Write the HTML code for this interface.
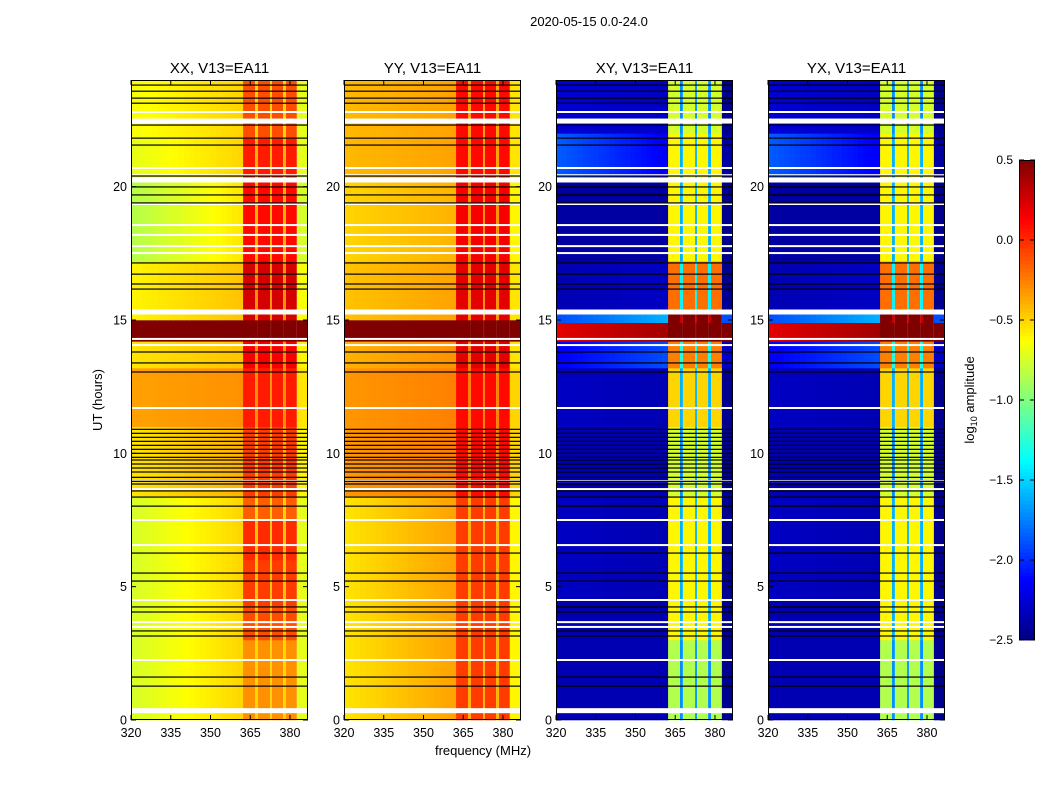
<!DOCTYPE html>
<html><head><meta charset="utf-8">
<style>
body{margin:0;background:#fff;font-family:"Liberation Sans",sans-serif;}
svg text{font-family:"Liberation Sans",sans-serif;}
</style></head>
<body>
<svg id="fig" width="1050" height="800" xmlns="http://www.w3.org/2000/svg">
<rect width="1050" height="800" fill="#fff"/>
<text x="589" y="26" font-size="13" text-anchor="middle">2020-05-15 0.0-24.0</text>
<text x="483" y="755" font-size="13" text-anchor="middle">frequency (MHz)</text>
<text transform="translate(102,400) rotate(-90)" font-size="13" text-anchor="middle">UT (hours)</text>
<g id="panels"></g>
<g id="cbar"></g>
</svg>
<script>
// ---- data ----
const panelTitles = ["XX, V13=EA11","YY, V13=EA11","XY, V13=EA11","YX, V13=EA11"];
const xTicks = [320,335,350,365,380];
const yTicks = [0,5,10,15,20];
const cbarTicks = [0.5,0.0,-0.5,-1.0,-1.5,-2.0,-2.5];
const bandRanges = [[362.3,366.8],[367.9,372.5],[373.2,377.4],[378.5,382.6]];
// time bands: [t0, t1, bgLeft, bgRight, bandVal, gapVal, edgeVal]
const bandsXX = [
 [0,3,-0.75,-0.5,-0.3,-0.5,-0.7],[3,4.3,-0.75,-0.5,-0.1,-0.45,-0.7],[4.3,6,-0.75,-0.5,-0.05,-0.45,-0.7],
 [6,7.5,-0.75,-0.5,0.0,-0.45,-0.7],[7.5,8.4,-0.75,-0.5,-0.15,-0.5,-0.7],[8.4,11,-0.55,-0.4,-0.05,-0.4,-0.6],
 [11,13.2,-0.35,-0.3,0.05,-0.3,-0.55],[13.2,14.2,-0.55,-0.45,0.15,-0.3,-0.6],[14.2,15,0.5,0.5,0.5,0.5,0.5],
 [15,17.2,-0.6,-0.45,0.25,-0.3,-0.65],[17.2,20.3,-0.85,-0.55,0.1,-0.4,-0.75],[20.3,21.8,-0.7,-0.5,0.05,-0.4,-0.7],
 [21.8,24,-0.65,-0.5,-0.1,-0.5,-0.7]];
const bandsYY = [
 [0,8.4,-0.55,-0.35,-0.05,-0.4,-0.6],[8.4,13.2,-0.32,-0.25,0.1,-0.25,-0.5],[13.2,14.2,-0.4,-0.3,0.2,-0.25,-0.55],
 [14.2,15,0.5,0.5,0.5,0.5,0.5],[15,17.2,-0.45,-0.35,0.2,-0.3,-0.55],[17.2,20.3,-0.5,-0.4,0.15,-0.3,-0.6],
 [20.3,24,-0.42,-0.35,0.1,-0.35,-0.55]];
const bandsXY = [
 [0,3,-2.35,-2.35,-0.85,-1.7,-2.45],[3,4.5,-2.35,-2.35,-0.6,-1.6,-2.45],[4.5,8.4,-2.3,-2.35,-0.6,-1.6,-2.45],
 [8.4,11,-2.35,-2.35,-0.75,-1.7,-2.45],[11,13.2,-2.3,-2.35,-0.5,-1.6,-2.45],[13.2,14.2,-2.15,-1.9,-0.25,-1.3,-2.3],
 [14.2,14.9,0.2,0.4,0.5,0.5,0.5],[14.9,15.3,-1.9,-1.6,0.5,0.3,-1.9],[15.3,17.2,-2.35,-2.3,-0.2,-1.4,-2.45],
 [17.2,20.3,-2.4,-2.4,-0.6,-1.6,-2.45],[20.3,22,-1.85,-2.15,-0.6,-1.6,-2.4],[22,24,-2.25,-2.3,-0.75,-1.7,-2.45]];
const bandsYX = bandsXY;
const panelBands = [bandsXX,bandsYY,bandsXY,bandsYX];
const whiteFlags = [0.3,2.25,3.49,3.67,4.5,6.56,7.5,8.66,8.96,11.7,14.06,14.29,17.51,17.77,18.19,18.56,19.35,20.43,20.7,22.8];
const whiteThick = [0.35,15.3,20.25,22.46];
const blackFlags = [1.27,1.61,3.15,3.34,4.05,4.24,5.21,5.51,6.26,8.02,8.36,8.59,8.85,8.95,9.1,9.3,9.45,9.6,9.75,9.85,10.0,10.15,10.3,10.45,10.6,10.75,10.9,13.05,13.39,13.8,16.16,16.35,16.72,17.14,19.39,19.69,19.99,20.4,21.56,21.82,22.31,23.13,23.32,23.58,23.81];
const panelLeft = [131,344,556,768];

// ---- scales ----
const W=177, TOP=80, BOT=720, FMIN=320, FMAX=386.8, TMAX=24, VMIN=-2.5, VMAX=0.5;
const NS="http://www.w3.org/2000/svg";
function xs(f,p){return panelLeft[p]+(f-FMIN)/(FMAX-FMIN)*W;}
function ys(t){return BOT-(t/TMAX)*(BOT-TOP);}
function jet(v){
  let x=(v-VMIN)/(VMAX-VMIN); x=Math.max(0,Math.min(1,x));
  const c=t=>Math.round(255*Math.max(0,Math.min(1,t)));
  const r=c(Math.min(4*x-1.5,-4*x+4.5)), g=c(Math.min(4*x-0.5,-4*x+3.5)), b=c(Math.min(4*x+0.5,-4*x+2.5));
  return `rgb(${r},${g},${b})`;
}
function el(tag,attrs,parent){const e=document.createElementNS(NS,tag);for(const k in attrs)e.setAttribute(k,attrs[k]);parent.appendChild(e);return e;}

const root=document.getElementById('panels');
for(let p=0;p<4;p++){
  const g=el('g',{},root);
  
  
  const hm=el('g',{},g);
  
  
  const bands=panelBands[p];
  const bgEnd=bandRanges[0][0];
  for(const b of bands){
    const y0=ys(b[1]), y1=ys(b[0]);
    for(let f=FMIN; f<bgEnd; f+=2){
      const f1=Math.min(f+2,bgEnd);
      const v=b[2]+(b[3]-b[2])*((f+f1)/2-FMIN)/(bgEnd-FMIN);
      const r=el('rect',{x:xs(f,p),y:y0,width:xs(f1,p)-xs(f,p)+0.5,height:y1-y0+0.3,fill:jet(v)},hm);
      
      
    }
    for(let i=0;i<bandRanges.length;i++){
      const br=bandRanges[i];
      const r=el('rect',{x:xs(br[0],p),y:y0,width:xs(br[1],p)-xs(br[0],p),height:y1-y0+0.3,fill:jet(b[4])},hm);
      
      
      const gEnd = i<bandRanges.length-1 ? bandRanges[i+1][0] : null;
      if(gEnd!==null){
        const gr=el('rect',{x:xs(br[1],p),y:y0,width:xs(gEnd,p)-xs(br[1],p),height:y1-y0+0.3,fill:jet(b[5])},hm);
        
        
      }
    }
    const last=bandRanges[bandRanges.length-1][1];
    const er=el('rect',{x:xs(last,p),y:y0,width:xs(FMAX,p)-xs(last,p),height:y1-y0+0.3,fill:jet(b[6])},hm);
    
    
  }
  for(const t of whiteFlags){
    const r=el('rect',{x:panelLeft[p],y:ys(t)-1,width:W,height:2,fill:'#fff'},g);
    
    
  }
  for(const t of whiteThick){
    const r=el('rect',{x:panelLeft[p],y:ys(t)-2.5,width:W,height:5,fill:'#fff'},g);
    
    
  }
  for(const t of blackFlags){
    const r=el('rect',{x:panelLeft[p],y:ys(t)-0.6,width:W,height:1.2,fill:'#000'},g);
    
    
  }
  const fr=el('rect',{x:panelLeft[p]+0.5,y:TOP+0.5,width:W-1,height:BOT-TOP-1,fill:'none',stroke:'#000','stroke-width':1},g);
  
  
  const tt=el('text',{x:panelLeft[p]+W/2,y:73,'font-size':15,'text-anchor':'middle'},g);
  tt.textContent=panelTitles[p];
  
  
  for(const f of xTicks){
    const x=xs(f,p);
    el('line',{x1:x,x2:x,y1:BOT,y2:BOT-5,stroke:'#000'},g);
    el('line',{x1:x,x2:x,y1:TOP,y2:TOP+5,stroke:'#000'},g);
    const lt=el('text',{x:x,y:BOT+17,'font-size':12.5,'text-anchor':'middle'},g);
    lt.textContent=f;
    
    
  }
  for(const t of yTicks){
    const y=ys(t);
    el('line',{x1:panelLeft[p],x2:panelLeft[p]+5,y1:y,y2:y,stroke:'#000'},g);
    el('line',{x1:panelLeft[p]+W,x2:panelLeft[p]+W-5,y1:y,y2:y,stroke:'#000'},g);
    const lt=el('text',{x:panelLeft[p]-4,y:y+4.5,'font-size':12.5,'text-anchor':'end'},g);
    lt.textContent=t;
    
    
  }
}
const cb=document.getElementById('cbar');


const CX=1019,CW=16,CT=160,CB=640;
for(let i=0;i<120;i++){
  const v=VMIN+(VMAX-VMIN)*(i+0.5)/120;
  const y=CB-(i+1)*(CB-CT)/120;
  el('rect',{x:CX,y:y,width:CW,height:(CB-CT)/120+0.5,fill:jet(v)},cb);
}
el('rect',{x:CX+0.5,y:CT+0.5,width:CW-1,height:CB-CT-1,fill:'none',stroke:'#000'},cb);
for(const v of cbarTicks){
  const y=CB-(v-VMIN)/(VMAX-VMIN)*(CB-CT);
  el('line',{x1:CX,x2:CX+5,y1:y,y2:y,stroke:'#000'},cb);
  el('line',{x1:CX+CW,x2:CX+CW-5,y1:y,y2:y,stroke:'#000'},cb);
  const t=el('text',{x:1013,y:y+4,'font-size':12,'text-anchor':'end'},cb);
  t.textContent=(v<0?'\u2212':'')+Math.abs(v).toFixed(1);
  
  
}
const cl=el('text',{transform:'translate(974,400) rotate(-90)','font-size':13,'text-anchor':'middle'},cb);
cl.innerHTML='log<tspan font-size="9" dy="3">10</tspan><tspan dy="-3"> amplitude</tspan>';


</script>
</body></html>
